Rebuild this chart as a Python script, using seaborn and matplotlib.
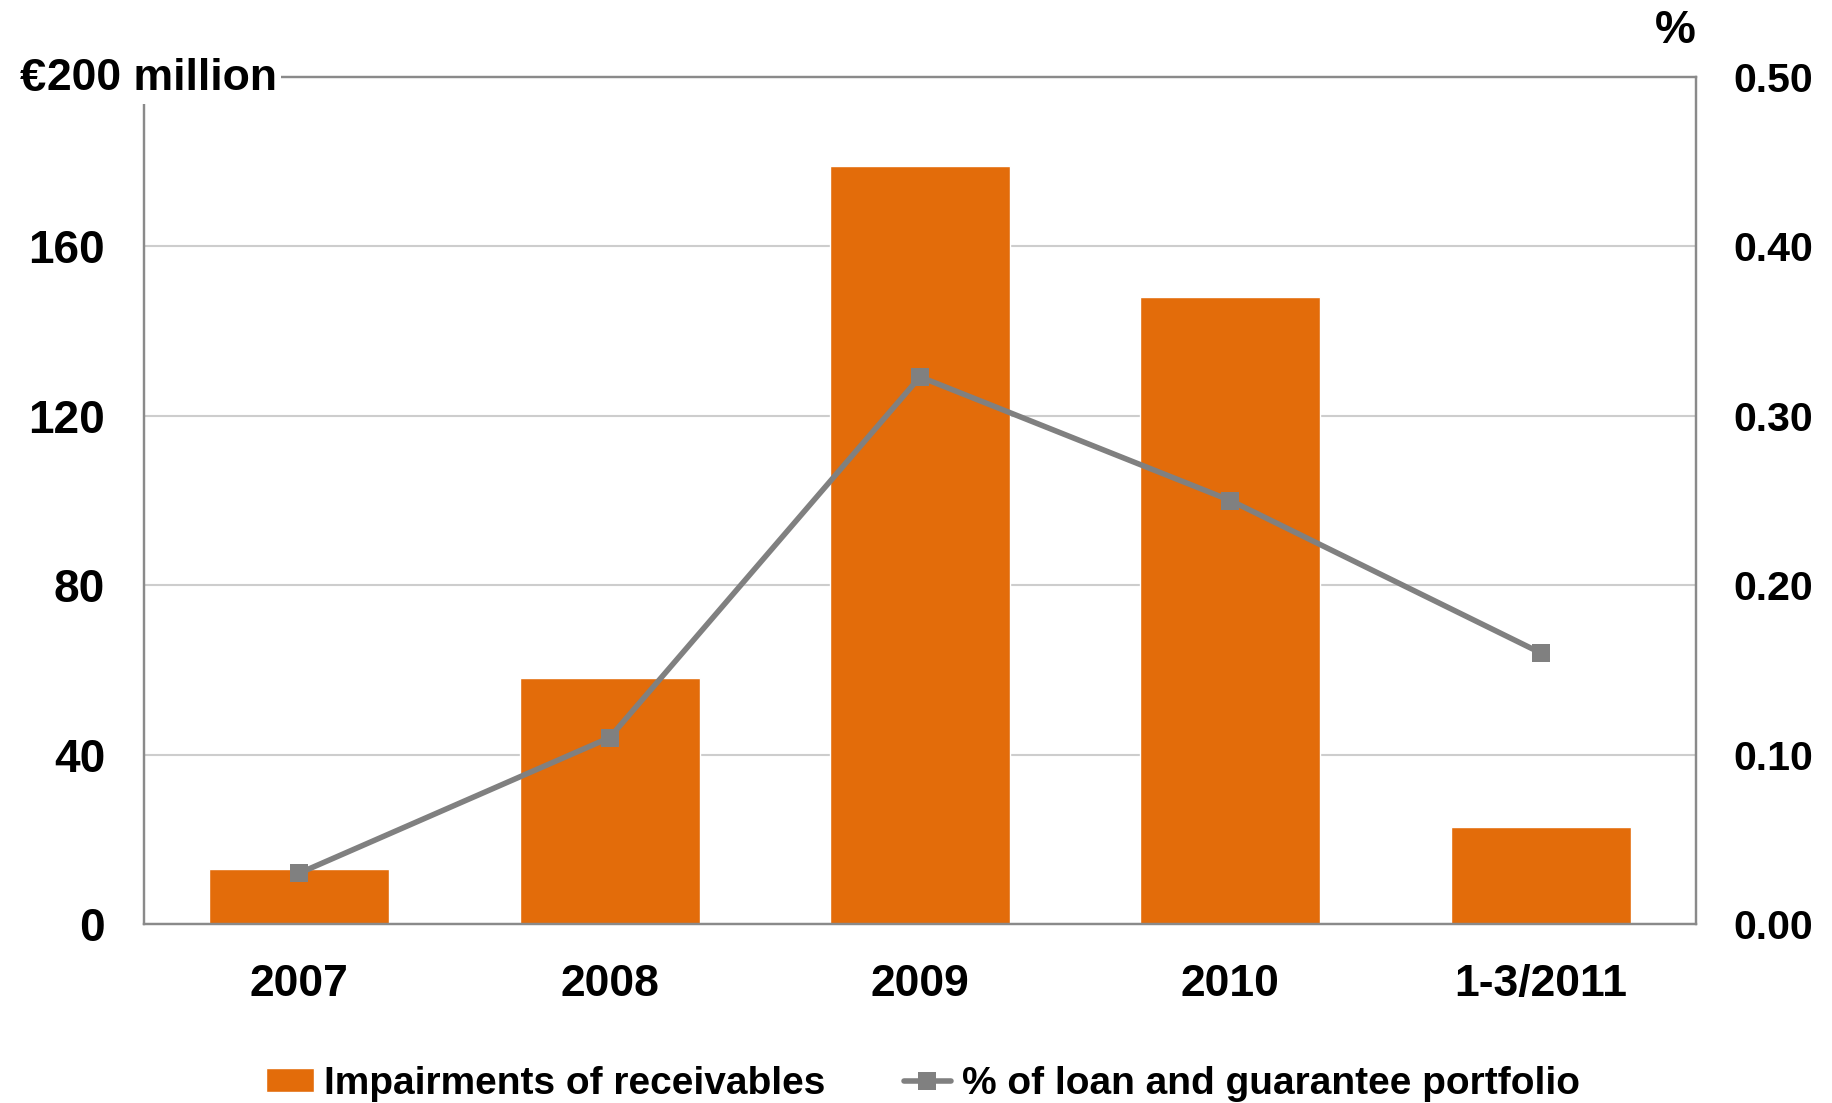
import matplotlib
matplotlib.use("Agg")
import matplotlib.pyplot as plt
import seaborn as sns
import pandas as pd
import numpy as np
from matplotlib.ticker import FuncFormatter

categories = ["2007", "2008", "2009", "2010", "1-3/2011"]
impairments = [13, 58, 179, 148, 23]
pct_portfolio = [0.03, 0.11, 0.323, 0.25, 0.16]
left_ticks = [0, 40, 80, 120, 160]
right_ticks = [0.0, 0.1, 0.2, 0.3, 0.4, 0.5]

bar_label = "Impairments of receivables"
line_label = "% of loan and guarantee portfolio"

ORANGE = "#E36C0A"
GREY = "#808080"
SPINE = "#8A8A8A"
GRID = "#CDCDCD"

sns.set_theme(style="white")
plt.rcParams["font.family"] = ["Liberation Sans", "DejaVu Sans"]
plt.rcParams["font.weight"] = "bold"
plt.rcParams["text.color"] = "black"
plt.rcParams["xtick.color"] = "black"
plt.rcParams["ytick.color"] = "black"
plt.rcParams["xtick.labelcolor"] = "black"
plt.rcParams["ytick.labelcolor"] = "black"

df = pd.DataFrame({"period": categories, "impairments": impairments, "pct": pct_portfolio})

fig = plt.figure(figsize=(18.32, 11.03), dpi=100)
ax = fig.add_axes([144/1832, 1 - 924/1103, (1696 - 144)/1832, (924 - 77)/1103])

sns.barplot(data=df, x="period", y="impairments", color=ORANGE, width=0.58,
            saturation=1, ax=ax, label=bar_label, zorder=2)
ax.set_xlim(-0.5, 4.5)
ax.set_ylim(0, 200)
ax.set_yticks(left_ticks)
ax.set_axisbelow(True)
ax.yaxis.grid(True, color=GRID, linewidth=1.5)
ax.xaxis.grid(False)
ax.set_xlabel("")
ax.set_ylabel("")
for s in ax.spines.values():
    s.set_visible(True)
    s.set_color(SPINE)
    s.set_linewidth(1.6)
ax.tick_params(axis="y", length=0, pad=28, labelsize=33, labelcolor="black")
ax.tick_params(axis="x", length=0, pad=29, labelsize=32, labelcolor="black")
for lab in ax.get_xticklabels() + ax.get_yticklabels():
    lab.set_fontweight("bold")

ax2 = ax.twinx()
sns.lineplot(data=df, x="period", y="pct", color=GREY, linewidth=4, marker="s",
             markersize=13.5, markeredgewidth=0, ax=ax2, label=line_label, sort=False)
ax2.set_ylim(0, 0.5)
ax2.set_yticks(right_ticks)
ax2.yaxis.set_major_formatter(FuncFormatter(lambda v, p: f"{v:.2f}"))
ax2.tick_params(axis="y", length=0, pad=27, labelsize=29.5, labelcolor="black")
for lab in ax2.get_yticklabels():
    lab.set_fontweight("bold")
ax2.set_ylabel("")
ax2.set_xlabel("")
ax2.grid(False)
for s in ax2.spines.values():
    s.set_color(SPINE)
    s.set_linewidth(1.6)
if ax2.get_legend() is not None:
    ax2.get_legend().remove()
if ax.get_legend() is not None:
    ax.get_legend().remove()

# axis unit labels
fig.text(277/1832, 1 - 79/1103, "200 million", ha="right", va="center",
         fontsize=32, fontweight="bold", zorder=10, color="black",
         bbox=dict(facecolor="white", edgecolor="none", pad=3))
fig.text(20/1832, 1 - 79/1103, "€", ha="left", va="center",
         fontsize=34, fontweight="bold", zorder=11, color="black")
fig.text(1675/1832, 1 - 31/1103, "%", ha="center", va="center",
         fontsize=33, fontweight="bold", color="black")

h1, l1 = ax.get_legend_handles_labels()
h2, l2 = ax2.get_legend_handles_labels()
leg = fig.legend(h1 + h2, l1 + l2, loc="center", bbox_to_anchor=(923/1832, 1 - 1084/1103),
                 ncol=2, frameon=False, prop=dict(family="Liberation Sans", weight="bold", size=28),
                 handlelength=1.23, handletextpad=0.26, columnspacing=2.0,
                 handleheight=0.57, borderpad=0.1)
for t in leg.get_texts():
    t.set_color("black")

fig.savefig("out.png", dpi=100, facecolor="white")
